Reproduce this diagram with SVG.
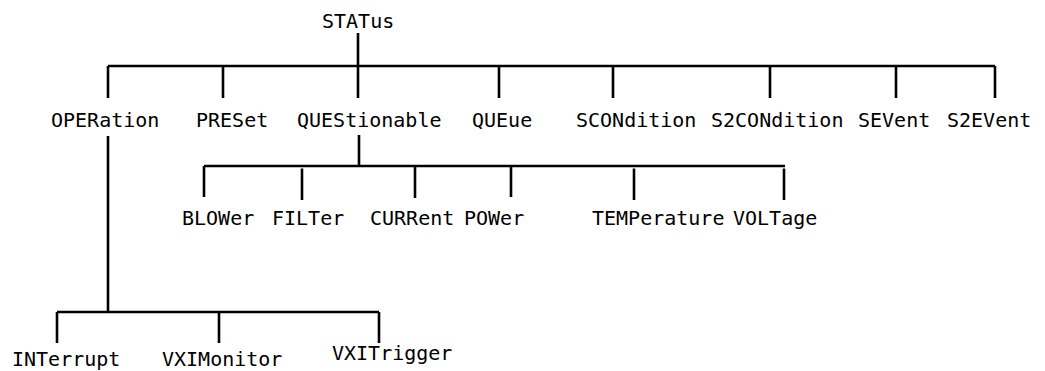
<svg xmlns="http://www.w3.org/2000/svg" width="1045" height="371" viewBox="0 0 1045 371">
<style>
.c{stroke:#000;stroke-width:2.6;fill:none;stroke-linecap:butt}
text{font-family:"DejaVu Sans Mono","Liberation Mono",monospace;font-size:20px;fill:#000}
</style>
<rect width="1045" height="371" fill="#fff"/>
<g id="connectors">
<path class="c" d="M358 33V98M108 66H995M108 66V98M223 66V98M499 66V98M613 66V98M770 66V98M896 66V98M995 66V98"/>
<path class="c" d="M359 135V167M204 166H785M204 166V197M302 168.5V200M415 166V198M511 166V197M634 168.5V200M784 168.5V200"/>
<path class="c" d="M108 136V313M57 312H379M57 312V343M219 312V343M379 312V343"/>
</g>
<g id="n-status"><text x="322" y="28">STATus</text></g>
<g id="n-operation"><text x="51" y="127">OPERation</text></g>
<g id="n-preset"><text x="196" y="127">PRESet</text></g>
<g id="n-questionable"><text x="297" y="127">QUEStionable</text></g>
<g id="n-queue"><text x="472" y="127">QUEue</text></g>
<g id="n-scondition"><text x="576" y="127">SCONdition</text></g>
<g id="n-s2condition"><text x="711" y="127">S2CONdition</text></g>
<g id="n-sevent"><text x="858" y="127">SEVent</text></g>
<g id="n-s2event"><text x="947" y="127">S2EVent</text></g>
<g id="n-blower"><text x="182" y="225">BLOWer</text></g>
<g id="n-filter"><text x="272" y="225">FILTer</text></g>
<g id="n-current"><text x="370" y="225">CURRent</text></g>
<g id="n-power"><text x="464" y="225">POWer</text></g>
<g id="n-temperature"><text x="592" y="225">TEMPerature</text></g>
<g id="n-voltage"><text x="733" y="225">VOLTage</text></g>
<g id="n-interrupt"><text x="12" y="366">INTerrupt</text></g>
<g id="n-vximonitor"><text x="162" y="366">VXIMonitor</text></g>
<g id="n-vxitrigger"><text x="332" y="360">VXITrigger</text></g>
</svg>
